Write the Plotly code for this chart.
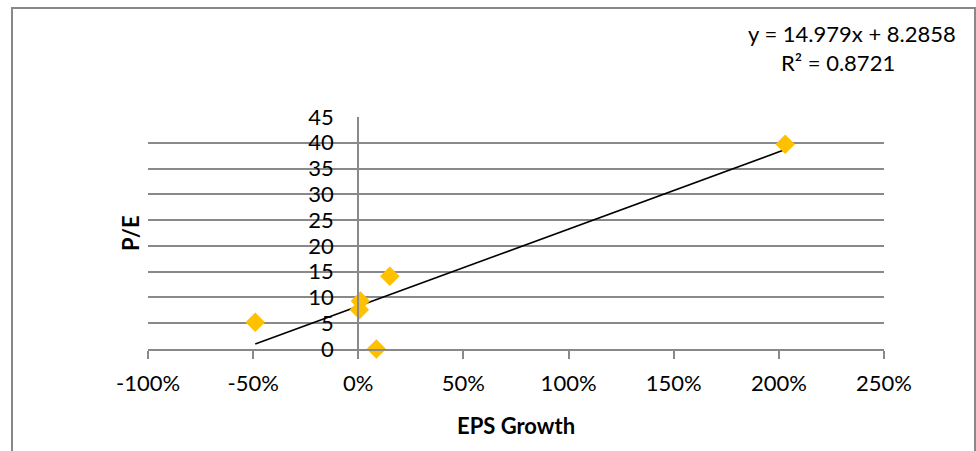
import plotly.graph_objects as go

eps_growth = [-0.49, 0.01, 0.005, 0.086, 0.15, 2.03]
pe_ratio = [5.2, 9.3, 7.6, 0.0, 14.1, 39.7]
slope = 14.979
intercept = 8.2858
r_squared = 0.8721

x_ticks = [-1.0, -0.5, 0.0, 0.5, 1.0, 1.5, 2.0, 2.5]
x_tick_labels = ["-100%", "-50%", "0%", "50%", "100%", "150%", "200%", "250%"]
y_ticks = [0, 5, 10, 15, 20, 25, 30, 35, 40, 45]

W, H = 976, 451
L, R, T, B = 148, 92, 117, 102
pw, ph = W - L - R, H - T - B

FONT = "Lato, Open Sans, sans-serif"
FS = 22
GRID = "#898989"

xmin, xmax = min(eps_growth), max(eps_growth)
trend_x = [xmin, xmax]
trend_y = [slope * v + intercept for v in trend_x]

fig = go.Figure()
fig.add_trace(go.Scatter(x=trend_x, y=trend_y, mode="lines",
                         line=dict(color="black", width=1.6), showlegend=False))
fig.add_trace(go.Scatter(x=eps_growth, y=pe_ratio, mode="markers",
                         marker=dict(symbol="diamond", size=15, color="#FFC000"),
                         showlegend=False, cliponaxis=False))

xpos0 = (0 - (-1.0)) / 3.5

fig.update_layout(
    width=W, height=H, margin=dict(l=L, r=R, t=T, b=B),
    paper_bgcolor="white", plot_bgcolor="white",
    font=dict(family=FONT, size=FS, color="black"),
    xaxis=dict(range=[-1.0, 2.5], tickvals=x_ticks, ticktext=x_tick_labels,
               showgrid=False, zeroline=False, showline=True, linecolor=GRID, linewidth=2,
               ticks="outside", ticklen=8, tickcolor=GRID, tickwidth=2,
               tickfont=dict(size=FS), ticklabelstandoff=6),
    yaxis=dict(range=[0, 45], tickvals=y_ticks, showgrid=True, gridcolor=GRID, gridwidth=1.5,
               zeroline=False, showline=True, linecolor=GRID, linewidth=2,
               anchor="free", position=xpos0, ticks="", tickfont=dict(size=FS),
               ticklabelstandoff=19),
)

def px_x(p):
    return (p - L) / pw

def px_y(p):
    return (H - B - p) / ph

def note(x, y, text, angle=0):
    fig.add_annotation(xref="paper", yref="paper", x=px_x(x), y=px_y(y), text=text,
                       showarrow=False, textangle=angle, xanchor="center", yanchor="middle",
                       font=dict(size=FS))

note(516, 425, "<b>EPS Growth</b>")
note(130, 233, "<b>P/E</b>", -90)
note(852, 33, f"y = {slope}x + {intercept}")
note(838, 63, f"R² = {r_squared}")

fig.add_shape(type="rect", xref="paper", yref="paper",
              x0=px_x(12), x1=px_x(975), y0=px_y(460), y1=px_y(8),
              line=dict(color="#888888", width=2), layer="below")

fig.write_html("out.html")
